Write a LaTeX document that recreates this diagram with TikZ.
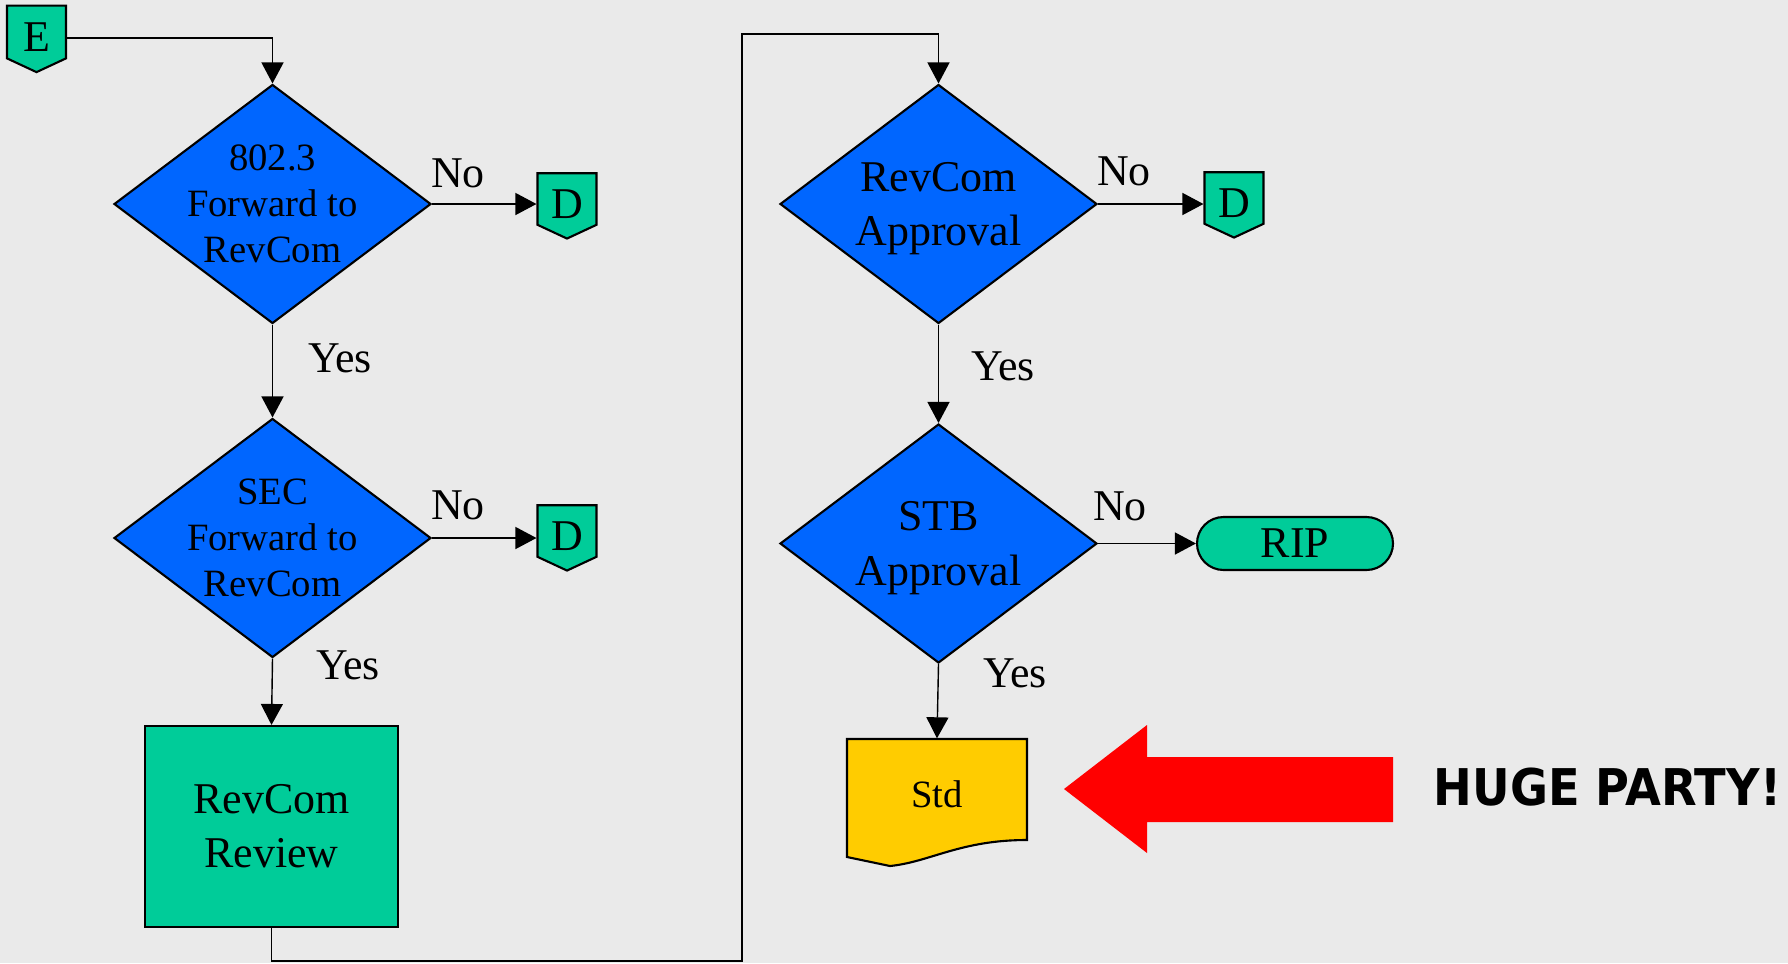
\documentclass[tikz,border=0pt]{standalone}
\usepackage{fontspec}
\setmainfont{Liberation Serif}
\newfontfamily\partyfont[FakeStretch=0.915]{DejaVu Sans}
\usetikzlibrary{shapes.geometric, shapes.symbols, shapes.misc, arrows.meta, calc}
\definecolor{pagegrey}{HTML}{EAEAEA}
\definecolor{decblue}{HTML}{0066FF}
\definecolor{termgreen}{HTML}{00CC99}
\definecolor{stdyellow}{HTML}{FFCC00}
\definecolor{partyred}{HTML}{FF0000}

\tikzset{
    decision/.style={draw, diamond, fill=decblue, line width=0.6pt, minimum width=31.7mm, minimum height=23.9mm,
        inner sep=-1.5mm, align=center, text depth=0pt, font=\fontsize{12.5}{15.4}\selectfont},
    smalltext/.style={font=\fontsize{11}{13.1}\selectfont},
    term/.style={draw, shape=signal, signal to=south, signal pointer angle=130, fill=termgreen, line width=0.6pt,
        minimum width=5.9mm, minimum height=5.9mm, inner sep=0pt, text height=3.9mm, text depth=0pt,
        font=\fontsize{12.5}{15}\selectfont},
    process/.style={draw, rectangle, fill=termgreen, line width=0.6pt, minimum width=25.3mm, minimum height=20.1mm,
        align=center, font=\fontsize{12.5}{15.4}\selectfont},
    endbox/.style={draw, rounded rectangle, fill=termgreen, line width=0.6pt, minimum width=19.6mm, minimum height=5.3mm,
        inner sep=0pt, font=\fontsize{12.5}{15}\selectfont},
    lbl/.style={inner sep=0pt, font=\fontsize{12.5}{15}\selectfont},
    flow/.style={-{Triangle[length=2.1mm, width=2.2mm]}, line width=0.4pt}
}

\begin{document}
\begin{tikzpicture}[x=0.1mm, y=-0.1mm]
        \useasboundingbox[fill=pagegrey] (0,0) rectangle (1788,963);

        % left column
        \node[term] (E) at (36.5,32) {E};
        \node[decision, smalltext] (dia1) at (272.5,204) {802.3\\Forward to\\RevCom};
        \node[term] (D1) at (567,199) {D};
        \node[decision, smalltext] (dia2) at (272.5,538) {SEC\\Forward to\\RevCom};
        \node[term] (D2) at (567,531) {D};
        \node[process] (rev) at (271.5,826.5) {RevCom\\Review};

        % right column
        \node[decision] (dia3) at (938.5,204) {RevCom\\Approval};
        \node[term] (D3) at (1234,198) {D};
        \node[decision] (dia4) at (938.5,543.5) {STB\\Approval};
        \node[endbox] (rip) at (1295,543.5) {RIP};

        \filldraw[fill=stdyellow, line width=0.6pt] (847,739) -- (1027,739) -- (1027,840)
            .. controls (960,840) and (930,862) .. (890,866) -- (847,857) -- cycle;
        \node[inner sep=0pt, minimum width=18mm, minimum height=11mm, smalltext] (std) at (937,794) {Std};

        \coordinate (loopa) at (742,961);
        \coordinate (loopb) at (742,34);

        \draw[flow] ([yshift=-0.6mm]E.east) -| (dia1.north);
        \draw[flow] (dia1.east) -- (dia1.east -| D1.west);
        \draw[flow] (dia1.south) -- (dia2.north);
        \draw[flow] (dia2.east) -- (dia2.east -| D2.west);
        \draw[flow] (dia2.south) -- (rev.north);
        \draw[flow] (rev.south) |- (loopa) -- (loopb) -| (dia3.north);
        \draw[flow] (dia3.east) -- (dia3.east -| D3.west);
        \draw[flow] (dia3.south) -- (dia4.north);
        \draw[flow] (dia4.east) -- (rip.west);
        \draw[flow] (dia4.south) -- (std.north);

        \node[lbl] (no1) at (458,173) {No};
        \node[lbl] (yes1) at (340,358) {Yes};
        \node[lbl] (no2) at (458,505) {No};
        \node[lbl] (yes2) at (348,665) {Yes};
        \node[lbl] (no3) at (1124,171) {No};
        \node[lbl] (yes3) at (1003,366) {Yes};
        \node[lbl] (no4) at (1120,506) {No};
        \node[lbl] (yes4) at (1015,673) {Yes};

        % party
        \fill[partyred] (1064,789) -- (1147,725) -- (1147,757) -- (1393,757) -- (1393,822) -- (1147,822)
            -- (1147,853) -- cycle;
        \node[anchor=base west, inner sep=0pt, font=\partyfont\bfseries\fontsize{14.4}{16}\selectfont] (party)
            at (1433,805) {HUGE PARTY!};
    \end{tikzpicture}
\end{document}
